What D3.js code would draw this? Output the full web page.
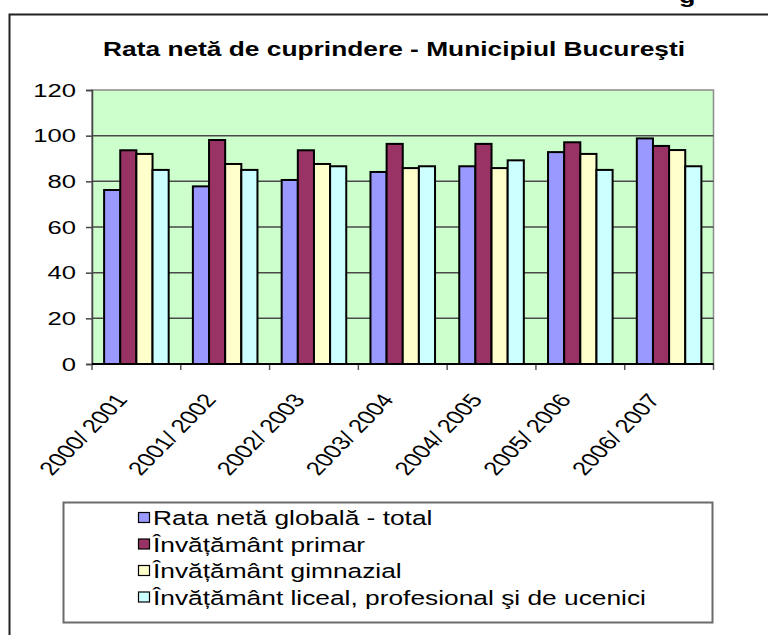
<!DOCTYPE html>
<html>
<head>
<meta charset="utf-8">
<script src="https://cdn.jsdelivr.net/npm/d3@7"></script>
<style>
  html, body { margin: 0; padding: 0; background: #fff; }
  svg { display: block; font-family: "Liberation Sans", Arial, sans-serif; }
</style>
</head>
<body>
<svg id="chart" width="768" height="635"></svg>
<script>
// School years on the category axis
const categories = ["2000/ 2001", "2001/ 2002", "2002/ 2003", "2003/ 2004", "2004/ 2005", "2005/ 2006", "2006/ 2007"];

// Net enrolment rate (%) per level of education
const seriesNames = [
  "Rata netă globală - total",
  "Învățământ primar",
  "Învățământ gimnazial",
  "Învățământ liceal, profesional şi de ucenici"
];
const globalTotal = [76.2, 77.8, 80.6, 84.1, 86.6, 92.8, 98.8];
const primary     = [93.6, 98.1, 93.6, 96.4, 96.4, 97.1, 95.5];
const gymnasium   = [92.0, 87.6, 87.6, 85.8, 85.8, 92.0, 93.7];
const highSchool  = [85.0, 85.0, 86.6, 86.6, 89.2, 85.0, 86.6];
const yTicks = [0, 20, 40, 60, 80, 100, 120];

const seriesValues = [globalTotal, primary, gymnasium, highSchool];
const colors = ["#9999FF", "#993366", "#FFFFCC", "#CCFFFF"];

const svg = d3.select("#chart");
const font = "'Liberation Sans', Arial, sans-serif";
// The whole chart is laid out wide: glyphs are drawn 1.35x wider than tall
const sx = 1.35;

// Outer chart frame (only top and left edges fall inside the view)
svg.append("path")
  .attr("d", "M9.5,635 L9.5,14.5 L768,14.5")
  .attr("fill", "none").attr("stroke", "#222").attr("stroke-width", 2);

// Clipped heading letter above the frame
svg.append("text")
  .attr("transform", `translate(679,3) scale(${sx},1)`)
  .attr("font-size", 20).attr("font-weight", "bold")
  .attr("font-family", font)
  .text("g");

// Title
svg.append("text")
  .attr("transform", `translate(394,56) scale(${sx},1)`)
  .attr("text-anchor", "middle")
  .attr("font-size", 19.5).attr("font-weight", "bold")
  .attr("font-family", font)
  .text("Rata netă de cuprindere - Municipiul Bucureşti");

// Plot area
const plot = { left: 92, top: 90, right: 713.5, bottom: 364 };

const x0 = d3.scaleBand()
  .domain(categories)
  .range([plot.left, plot.right])
  .paddingInner(0).paddingOuter(0);

// 150% gap width: the gap equals 1.5 bar widths
const barW = x0.bandwidth() / 5.5;
const x1 = d3.scaleBand()
  .domain(d3.range(seriesValues.length))
  .range([barW * 0.75, barW * 0.75 + barW * 4]);

const y = d3.scaleLinear().domain([0, 120]).range([plot.bottom, plot.top]);

svg.append("rect")
  .attr("x", plot.left).attr("y", plot.top)
  .attr("width", plot.right - plot.left).attr("height", plot.bottom - plot.top)
  .attr("fill", "#CCFFCC")
  .attr("stroke", "#8c8c8c").attr("stroke-width", 1.5);

// Horizontal gridlines
svg.append("g")
  .selectAll("line")
  .data(yTicks.filter(t => t > 0 && t < 120))
  .join("line")
  .attr("x1", plot.left).attr("x2", plot.right)
  .attr("y1", d => y(d)).attr("y2", d => y(d))
  .attr("stroke", "#4a4a4a").attr("stroke-width", 1.5);

// Value axis
const yAxis = d3.axisLeft(y).tickValues(yTicks).tickSize(6).tickPadding(0).tickFormat(d3.format("d"));
const gy = svg.append("g").attr("transform", `translate(${plot.left},0)`).call(yAxis);
gy.select(".domain").attr("stroke", "#444").attr("stroke-width", 1.5);
gy.selectAll(".tick line").attr("stroke", "#444").attr("stroke-width", 1.5);
gy.selectAll(".tick text")
  .attr("x", 0)
  .attr("transform", `translate(-16,0) scale(${sx},1)`)
  .attr("font-size", 19).attr("font-family", font).attr("fill", "#000");

// Bars
const groups = svg.append("g")
  .selectAll("g")
  .data(categories)
  .join("g")
  .attr("transform", d => `translate(${x0(d)},0)`);

groups.selectAll("rect")
  .data((c, i) => seriesValues.map((vals, s) => ({ s, v: vals[i] })))
  .join("rect")
  .attr("x", d => x1(d.s))
  .attr("y", d => y(d.v))
  .attr("width", x1.bandwidth())
  .attr("height", d => y(0) - y(d.v))
  .attr("fill", d => colors[d.s])
  .attr("stroke", "#000").attr("stroke-width", 2);

// Category axis with ticks between groups
const xTickPos = d3.range(categories.length + 1).map(i => plot.left + i * x0.bandwidth());
svg.append("g")
  .selectAll("line")
  .data(xTickPos)
  .join("line")
  .attr("x1", d => d).attr("x2", d => d)
  .attr("y1", plot.bottom).attr("y2", plot.bottom + 6)
  .attr("stroke", "#555").attr("stroke-width", 1.5);
svg.append("line")
  .attr("x1", plot.left).attr("x2", plot.right)
  .attr("y1", plot.bottom).attr("y2", plot.bottom)
  .attr("stroke", "#000").attr("stroke-width", 2);

// Slanted category labels (appear at 45 degrees once widened)
svg.append("g")
  .selectAll("text")
  .data(categories)
  .join("text")
  .attr("transform", d => `translate(${x0(d) + x0.bandwidth() / 2 - 8},${plot.bottom + 36}) scale(${sx},1) rotate(-53.5)`)
  .attr("text-anchor", "end")
  .attr("font-size", 19).attr("font-family", font)
  .text(d => d);

// Legend
const legend = svg.append("g");
legend.append("rect")
  .attr("x", 63.5).attr("y", 502.5).attr("width", 649).attr("height", 120)
  .attr("fill", "#fff").attr("stroke", "#6a6a6a").attr("stroke-width", 2);

const rows = legend.selectAll("g.row")
  .data(seriesNames)
  .join("g")
  .attr("class", "row")
  .attr("transform", (d, i) => `translate(138,${518 + i * 26.5})`);

rows.append("rect")
  .attr("x", 0.5).attr("y", -5.5).attr("width", 11).attr("height", 10)
  .attr("fill", (d, i) => colors[i])
  .attr("stroke", "#000").attr("stroke-width", 1.2);

rows.append("text")
  .attr("transform", `translate(15,7) scale(${sx},1)`)
  .attr("font-size", 19.5).attr("font-family", font)
  .text(d => d);
</script>
</body>
</html>
